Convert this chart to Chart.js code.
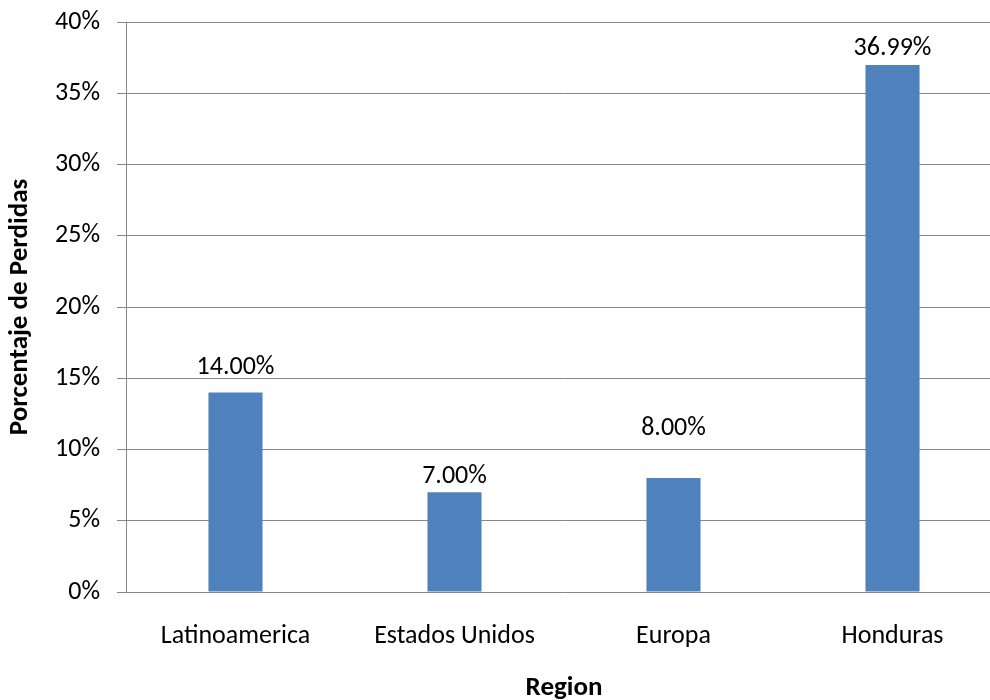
<!DOCTYPE html>
<html lang="es">
<head>
  <meta charset="UTF-8">
  <title>Porcentaje de Perdidas por Region</title>
  <script src="https://cdn.jsdelivr.net/npm/chart.js"></script>
  <style>
    html, body { margin: 0; padding: 0; background: #fff; overflow: hidden; }
    #wrap { width: 1010px; height: 700px; }
  </style>
</head>
<body>

  <div id="wrap">
    <canvas id="perdidasChart" width="1010" height="700"></canvas>
  </div>

  <script>
    // datos
    const regiones = ['Latinoamerica', 'Estados Unidos', 'Europa', 'Honduras'];
    const perdidas = [14.00, 7.00, 8.00, 36.99];
    const ticksY = [0, 5, 10, 15, 20, 25, 30, 35, 40];

    const fuente = 'Carlito, Lato, sans-serif';
    const gris = '#868686';

    // etiquetas de valor encima de cada barra (algunas movidas a mano)
    const desplazamiento = [19, 9, 43, 10];
    const etiquetasValor = {
      id: 'etiquetasValor',
      afterDatasetsDraw(chart) {
        const ctx = chart.ctx;
        const meta = chart.getDatasetMeta(0);
        ctx.save();
        ctx.font = '26px ' + fuente;
        ctx.fillStyle = '#000';
        ctx.textAlign = 'center';
        ctx.textBaseline = 'alphabetic';
        meta.data.forEach((bar, i) => {
          const texto = perdidas[i].toFixed(2) + '%';
          ctx.fillText(texto, bar.x, bar.y - desplazamiento[i]);
        });
        ctx.restore();
      }
    };

    const chartElement = document.getElementById('perdidasChart').getContext('2d');

    new Chart(chartElement, {
      type: 'bar',
      data: {
        labels: regiones,
        datasets: [{
          data: perdidas,
          backgroundColor: '#4F81BD',
          borderWidth: 0,
          categoryPercentage: 1,
          barPercentage: 0.247
        }]
      },
      options: {
        responsive: false,
        animation: false,
        layout: { padding: { top: 22, right: 8, left: 0, bottom: 0 } },
        plugins: {
          legend: { display: false },
          tooltip: { enabled: false }
        },
        scales: {
          x: {
            grid: { display: false },
            border: { display: false },
            ticks: {
              color: '#000',
              font: { family: fuente, size: 26 },
              padding: 21,
              maxRotation: 0
            },
            title: {
              display: true,
              text: 'Region',
              color: '#000',
              font: { family: fuente, size: 27, weight: 'bold', lineHeight: 0.9 },
              padding: { top: 0, bottom: 0 }
            },
            afterFit(scale) { scale.height = 108; }
          },
          y: {
            min: 0,
            max: 40,
            afterBuildTicks(scale) {
              scale.ticks = ticksY.map(v => ({ value: v }));
            },
            grid: { color: gris, lineWidth: 1, tickLength: 9 },
            border: { color: gris, width: 1 },
            ticks: {
              color: '#000',
              font: { family: fuente, size: 26 },
              padding: 17,
              callback: v => v + '%'
            },
            title: {
              display: true,
              text: 'Porcentaje de Perdidas',
              color: '#000',
              font: { family: fuente, size: 27, weight: 'bold' },
              padding: { top: 4, bottom: 0 }
            },
            afterFit(scale) {
              scale.width = 126;
              // el padding de las etiquetas no debe empujar el área del gráfico
              scale.paddingTop = 0;
              scale.paddingBottom = 0;
            }
          }
        }
      },
      plugins: [etiquetasValor]
    });
  </script>

</body>
</html>
